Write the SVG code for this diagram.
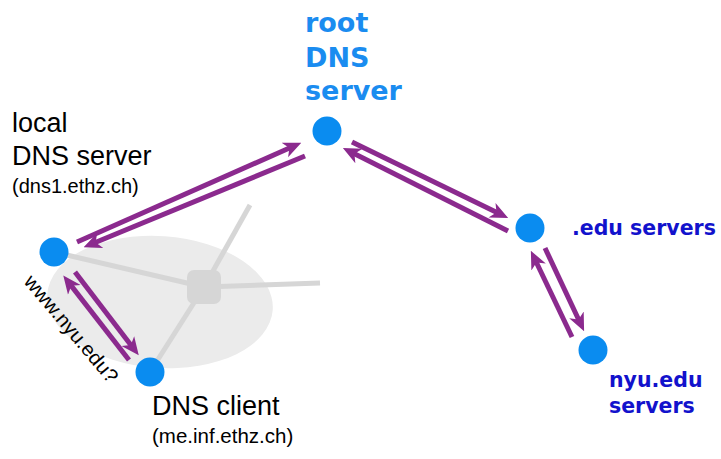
<svg xmlns="http://www.w3.org/2000/svg" width="721" height="459" viewBox="0 0 721 459">
<defs>
<style>
.node{fill:#0a8cf0}
.gl{stroke:#d6d6d6;stroke-width:5;fill:none}
.ar{stroke:#8b2a8e;stroke-width:5;fill:none;marker-end:url(#ah)}
.lbl{font-family:"Liberation Sans",Arial,sans-serif;fill:#000}
.root{font-family:"DejaVu Sans",sans-serif;font-weight:bold;font-size:27px;fill:#1a8cf0}
.dk{font-family:"DejaVu Sans",sans-serif;font-weight:bold;font-size:20.5px;fill:#1212cc}
</style>
<marker id="ah" markerUnits="userSpaceOnUse" markerWidth="18" markerHeight="18" viewBox="0 0 18 18" refX="10" refY="9" orient="auto">
<path d="M0,1 L18,9 L0,17 L5,9 z" fill="#8b2a8e"/>
</marker>
</defs>
<rect width="721" height="459" fill="#fff"/>
<g id="network">
<ellipse cx="160" cy="302" rx="113" ry="66" transform="rotate(4 160 302)" fill="#ebebeb"/>
<line class="gl" x1="204" y1="287" x2="250" y2="205"/>
<line class="gl" x1="204" y1="287" x2="320" y2="283"/>
<line class="gl" x1="204" y1="287" x2="54" y2="252"/>
<line class="gl" x1="204" y1="287" x2="150" y2="372"/>
<rect x="187" y="270" width="34" height="34" rx="7" fill="#d6d6d6"/>
</g>
<g id="connectors">
<line class="ar" x1="77" y1="242" x2="294" y2="146"/>
<line class="ar" x1="305" y1="156" x2="91" y2="244.3"/>
<line class="ar" x1="129" y1="360" x2="68.2" y2="281.9"/>
<line class="ar" x1="75" y1="272" x2="133.9" y2="349"/>
<line class="ar" x1="352" y1="142" x2="501" y2="214.6"/>
<line class="ar" x1="508" y1="231" x2="350" y2="151.5"/>
<line class="ar" x1="572" y1="337" x2="534.3" y2="258"/>
<line class="ar" x1="545" y1="248" x2="580.7" y2="324"/>
</g>
<g id="root">
<circle class="node" cx="327" cy="131" r="14.5"/>
<text class="root" x="305" y="32">root</text>
<text class="root" x="305" y="67">DNS</text>
<text class="root" x="305" y="100">server</text>
</g>
<g id="local">
<circle class="node" cx="54" cy="252" r="14.5"/>
<text class="lbl" x="12" y="132" font-size="27">local</text>
<text class="lbl" x="12" y="165" font-size="27">DNS server</text>
<text class="lbl" x="12" y="193" font-size="20">(dns1.ethz.ch)</text>
</g>
<g id="client">
<circle class="node" cx="150" cy="372" r="14.5"/>
<text class="lbl" x="152" y="415" font-size="27">DNS client</text>
<text class="lbl" x="152" y="443" font-size="20.5">(me.inf.ethz.ch)</text>
</g>
<g id="edu">
<circle class="node" cx="530" cy="228" r="14.5"/>
<text class="dk" x="572" y="235">.edu servers</text>
</g>
<g id="nyu">
<circle class="node" cx="593" cy="350" r="14.5"/>
<text class="dk" x="609" y="387">nyu.edu</text>
<text class="dk" x="609" y="413">servers</text>
</g>
<g id="query">
<text class="lbl" font-size="20" transform="translate(23 282) rotate(50)" textLength="134" lengthAdjust="spacingAndGlyphs">www.nyu.edu?</text>
</g>
</svg>
